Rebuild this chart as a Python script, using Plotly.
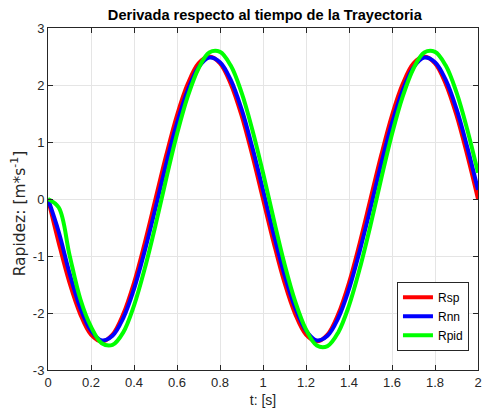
import plotly.graph_objects as go

# Sample times [s]
t = [round(0.05 * i, 2) for i in range(41)]

# Reference speed profile
rsp = [0.0, -0.77, -1.47, -2.02, -2.38, -2.5, -2.38, -2.02, -1.47, -0.77,
       0.0, 0.77, 1.47, 2.02, 2.38, 2.5, 2.38, 2.02, 1.47, 0.77,
       0.0, -0.77, -1.47, -2.02, -2.38, -2.5, -2.38, -2.02, -1.47, -0.77,
       0.0, 0.77, 1.47, 2.02, 2.38, 2.5, 2.38, 2.02, 1.47, 0.77, 0.0]

# Neural network controller response
rnn = [0.0, -0.58, -1.3, -1.91, -2.31, -2.48, -2.4, -2.09, -1.58, -0.91,
       -0.16, 0.62, 1.33, 1.91, 2.31, 2.48, 2.4, 2.09, 1.58, 0.91,
       0.16, -0.62, -1.33, -1.91, -2.31, -2.48, -2.4, -2.09, -1.58, -0.91,
       -0.16, 0.62, 1.33, 1.91, 2.31, 2.48, 2.4, 2.09, 1.58, 0.91, 0.16]

# PID controller response
rpid = [0.0, -0.15, -0.98, -1.75, -2.24, -2.53, -2.56, -2.34, -1.87, -1.22,
        -0.46, 0.36, 1.14, 1.8, 2.29, 2.57, 2.58, 2.34, 1.87, 1.22,
        0.46, -0.36, -1.14, -1.8, -2.29, -2.57, -2.58, -2.34, -1.87, -1.22,
        -0.46, 0.36, 1.14, 1.8, 2.29, 2.57, 2.58, 2.34, 1.87, 1.22, 0.46]

x_ticks = [0, 0.2, 0.4, 0.6, 0.8, 1, 1.2, 1.4, 1.6, 1.8, 2]
x_labels = ["0", "0.2", "0.4", "0.6", "0.8", "1", "1.2", "1.4", "1.6", "1.8", "2"]
y_ticks = [-3, -2, -1, 0, 1, 2, 3]
y_labels = ["-3", "-2", "-1", "0", "1", "2", "3"]

series = [("Rsp", rsp, "#ff0000"), ("Rnn", rnn, "#0000ff"), ("Rpid", rpid, "#00ff00")]

FONT = "Liberation Sans, Arial"

fig = go.Figure()
for name, vals, color in series:
    fig.add_trace(go.Scatter(
        x=t, y=vals, name=name, mode="lines",
        line=dict(color=color, width=4, shape="spline", smoothing=1.0),
    ))

axis_common = dict(
    showline=True, linecolor="#262626", linewidth=1, mirror="ticks",
    ticks="inside", ticklen=5, tickcolor="#262626",
    showgrid=True, gridcolor="#e5e5e5", gridwidth=1,
    zeroline=False, ticklabeloverflow="allow",
    tickfont=dict(family=FONT, size=13, color="#262626"),
)

fig.update_layout(
    width=485, height=410,
    margin=dict(l=48, r=3, t=28, b=40),
    paper_bgcolor="white", plot_bgcolor="white",
    title=dict(
        text="<b>Derivada respecto al tiempo de la Trayectoria</b>",
        x=0.546, xanchor="center", y=0.963, yanchor="middle",
        font=dict(family=FONT, size=14.6, color="black"),
    ),
    xaxis=dict(
        range=[0, 2], tickvals=x_ticks, ticktext=x_labels,
        title=dict(text="t: [s]", standoff=6,
                   font=dict(family=FONT, size=14, color="#262626")),
        **axis_common,
    ),
    yaxis=dict(
        range=[-3, 3], tickvals=y_ticks, ticktext=y_labels,
        **axis_common,
    ),
    legend=dict(
        x=0.979, y=0.056, xanchor="right", yanchor="bottom",
        bgcolor="white", bordercolor="#262626", borderwidth=1,
        font=dict(family=FONT, size=12, color="black"),
        tracegroupgap=0, itemwidth=30,
    ),
    showlegend=True,
)

# Y-axis label placed as a rotated annotation
fig.add_annotation(
    text="Rapidez: [m*s<sup>-1</sup>]", textangle=-90,
    xref="paper", yref="paper", x=-0.069, y=0.459,
    xanchor="center", yanchor="middle", showarrow=False,
    font=dict(family="DejaVu Sans", size=15.5, color="#262626"),
)

fig.write_html("out.html")
